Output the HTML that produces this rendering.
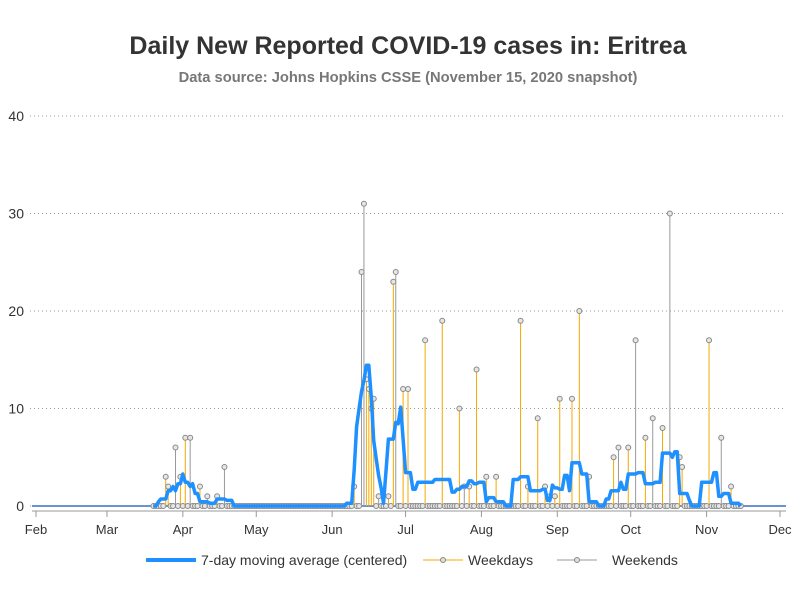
<!DOCTYPE html>
<html><head><meta charset="utf-8"><style>
body{margin:0;background:#fff;font-family:"Liberation Sans",sans-serif}
svg text{font-family:"Liberation Sans",sans-serif}
</style></head><body>
<svg id="chart" width="800" height="600" xmlns="http://www.w3.org/2000/svg">
<text x="408" y="54" text-anchor="middle" font-size="25" font-weight="bold" fill="#333">Daily New Reported COVID-19 cases in: Eritrea</text>
<text x="408" y="82" text-anchor="middle" font-size="14.7" font-weight="bold" fill="#777">Data source: Johns Hopkins CSSE (November 15, 2020 snapshot)</text>
<g id="grid"></g><g id="marks"></g><g id="axes"></g>
<g>
<line x1="146" y1="560" x2="196" y2="560" stroke="#1e90ff" stroke-width="4"/>
<text x="201" y="565" font-size="14" fill="#333">7-day moving average (centered)</text>
<line x1="423" y1="560" x2="463" y2="560" stroke="#f5a800" stroke-width="1"/>
<circle cx="443" cy="560" r="2.5" fill="#ddd" stroke="#888"/>
<text x="468" y="565" font-size="14" fill="#333">Weekdays</text>
<line x1="557" y1="560" x2="597" y2="560" stroke="#999" stroke-width="1"/>
<circle cx="577" cy="560" r="2.5" fill="#ddd" stroke="#888"/>
<text x="612" y="565" font-size="14" fill="#333">Weekends</text>
</g>
</svg>
<script>
// day index = days after Feb 1, 2020
const startDay = 48, endDay = 288;
const spikeDays = [53,54,57,59,61,63,67,70,74,77,130,133,134,135,136,137,138,140,144,146,147,150,152,159,166,173,175,177,180,184,188,198,201,205,208,210,212,214,219,222,226,236,238,242,245,249,252,256,259,263,264,275,280,284];
const spikeValues = [3,2,6,3,7,7,2,1,1,4,2,24,31,13,12,10,11,1,1,23,24,12,12,17,19,10,2,2,14,3,3,19,2,9,2,1,1,11,11,20,3,5,6,6,17,7,9,8,30,5,4,17,7,2];
const yTicks = [0,10,20,30,40];
const monthLabels = ["Feb","Mar","Apr","May","Jun","Jul","Aug","Sep","Oct","Nov","Dec"];
const monthStartDays = [0,29,60,90,121,151,182,213,243,274,304];

const X0=36, X1=780, Y0=506, Y40=116;
const xs = d => X0 + d*(X1-X0)/304;
const ys = v => Y0 - v*(Y0-Y40)/40;
const NS="http://www.w3.org/2000/svg";
function mk(tag, attrs, parent){const e=document.createElementNS(NS,tag);for(const k in attrs)e.setAttribute(k,attrs[k]);parent.appendChild(e);return e;}
const grid=document.getElementById('grid'), marks=document.getElementById('marks'), axes=document.getElementById('axes');

yTicks.forEach(t=>{
  const l=mk('line',{x1:30,x2:786,y1:ys(t),y2:ys(t),stroke:'#999','stroke-dasharray':'1,3'},grid);
  
  
  const tx=mk('text',{x:24,y:ys(t)+5,'text-anchor':'end','font-size':14,fill:'#333'},axes);
  tx.textContent=t;
  
  
});
const ax=mk('line',{x1:32,x2:786,y1:511,y2:511,stroke:'#999'},axes);


monthLabels.forEach((m,i)=>{
  const x=xs(monthStartDays[i]);
  const tk=mk('line',{x1:x,x2:x,y1:511,y2:517,stroke:'#999'},axes);
  
  
  const tx=mk('text',{x:x,y:534,'text-anchor':'middle','font-size':13,fill:'#333'},axes);
  tx.textContent=m;
  
  
});

// daily cases
const cases={};
for(let d=startDay; d<=endDay; d++) cases[d]=0;
spikeDays.forEach((d,i)=>{cases[d]=spikeValues[i];});

const base=mk('line',{x1:32,x2:786,y1:ys(0),y2:ys(0),stroke:'#3a6fc4','stroke-width':1.5},marks);



for(let d=startDay; d<=endDay; d++){
  const v=cases[d];
  const wd=(6+d)%7;
  const weekend=(wd===0||wd===6);
  const col=weekend?'#999':'#f5a800';
  if(v>0){
    const l=mk('line',{x1:xs(d),x2:xs(d),y1:ys(0),y2:ys(v),stroke:col,'stroke-width':1},marks);
    
    
  }
  const c=mk('circle',{cx:xs(d),cy:ys(v),r:2.5,fill:'#e6e6e6',stroke:'#888','stroke-width':1},marks);
  
  
}

// centered 7-day moving average
let pts=[];
for(let d=startDay; d<=endDay; d++){
  let s=0;
  for(let k=d-3;k<=d+3;k++) s+=(cases[k]||0);
  pts.push(xs(d).toFixed(1)+','+ys(s/7).toFixed(1));
}
const ma=mk('polyline',{points:pts.join(' '),fill:'none',stroke:'#1e90ff','stroke-width':3.5,'stroke-linejoin':'round'},marks);


</script>
</body></html>
